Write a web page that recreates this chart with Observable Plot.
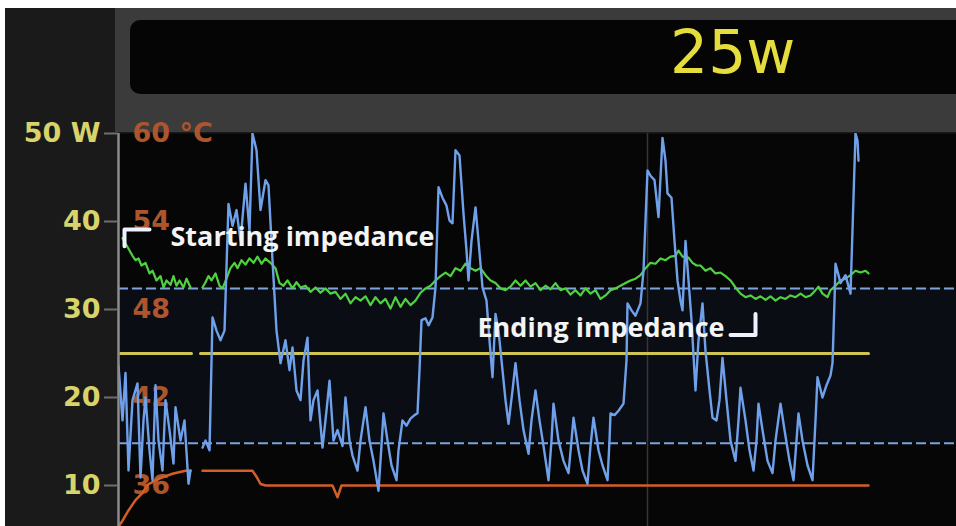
<!DOCTYPE html>
<html>
<head>
<meta charset="utf-8">
<script src="https://cdn.jsdelivr.net/npm/d3@7"></script>
<script src="https://cdn.jsdelivr.net/npm/@observablehq/plot@0.6"></script>
<style>
  html, body { margin: 0; padding: 0; background: #ffffff; }
  #screen { position: absolute; left: 5px; top: 8px; width: 951px; height: 518px; background: #1a1a1a; overflow: hidden; }
  #band { position: absolute; left: 110px; top: 0; width: 841px; height: 124px; background: #3b3b3b; }
  #box { position: absolute; left: 125px; top: 12px; width: 840px; height: 74px; background: #050505; border-radius: 10px; }
  #setp { position: absolute; left: 665px; top: 14px; font-family: "DejaVu Sans"; font-size: 60px; line-height: 60px; color: #e4dd3c; white-space: nowrap; }
  #chart { position: absolute; left: 0; top: 0; }
</style>
</head>
<body>
<div id="screen">
  <div id="band"></div>
  <div id="box"></div>
  <div id="setp">25w</div>
  <div id="chart"></div>
</div>
<script>
// ---- data (time in s, power in W, temperature in °C) ----
const xDomain = [0, 83.8];
const yDomain = [5.34, 50];
const powerTicks = [10, 20, 30, 40, 50];
const tempTicks = [60, 54, 48, 42, 36];
const setPower = 25;
const impedanceLimits = [32.4, 14.8];
const cursorTime = [52.9];

const setLine = [[0.2, 25], [7.3, 25], [7.8, NaN], [8.2, 25], [75, 25]];

const power = [
  [0,23.6],[0.4,17.4],[0.7,22.8],[1.0,11.7],[1.4,19.7],[1.9,21.6],[2.2,10.9],[2.5,17.4],[2.7,20.0],[3.1,14.0],
  [3.4,10.6],[3.7,21.4],[4.0,15.1],[4.4,11.7],[4.7,19.7],[5.1,16.3],[5.5,12.5],[5.7,18.9],[6.2,15.1],[6.6,17.4],
  [7.0,10.2],[7.2,11.7],[7.8,NaN],
  [8.4,14.3],[8.7,15.1],[9.1,14.0],[9.4,29.1],[9.8,27.6],[10.2,26.5],[10.6,27.6],[11.0,42.0],[11.4,39.5],[11.8,41.3],
  [12.2,37.8],[12.7,44.3],[13.1,39.0],[13.4,50.0],[13.8,48.1],[14.2,41.3],[14.7,44.7],[15.0,44.1],[15.4,35.6],[15.8,27.6],
  [16.2,23.9],[16.7,26.5],[17.1,23.1],[17.4,25.7],[17.8,20.8],[18.2,19.7],[18.5,24.2],[18.9,26.8],[19.2,17.4],[19.5,19.7],
  [19.9,20.8],[20.4,14.3],[20.8,18.5],[21.1,21.9],[21.5,15.1],[21.9,16.3],[22.4,14.5],[22.7,20.0],[23.1,15.1],[23.4,13.4],
  [23.9,11.7],[24.2,15.1],[24.7,18.9],[25.1,15.1],[25.5,12.8],[26.0,9.4],[26.2,12.8],[26.5,18.2],[26.9,15.1],[27.3,12.3],
  [27.8,10.6],[28.0,14.0],[28.4,17.4],[28.8,16.8],[29.2,17.6],[29.6,18.0],[29.9,18.2],[30.1,23.1],[30.3,28.8],[30.7,29.0],
  [31.0,28.2],[31.4,29.1],[31.7,32.5],[32.0,43.9],[32.4,42.7],[32.8,41.8],[33.1,40.1],[33.4,39.8],[33.7,48.1],[34.1,47.5],
  [34.5,40.9],[34.8,36.7],[35.0,33.3],[35.3,37.8],[35.7,41.6],[36.0,37.8],[36.4,32.5],[36.8,31.0],[37.1,26.5],[37.4,22.3],
  [37.7,29.5],[38.0,27.6],[38.4,23.1],[38.7,19.7],[39.0,17.0],[39.4,20.8],[39.7,23.9],[40.1,19.7],[40.5,16.3],[41.0,13.6],
  [41.3,17.4],[41.7,20.8],[42.1,17.4],[42.5,14.5],[43.0,10.6],[43.3,15.1],[43.5,19.3],[44.0,15.1],[44.5,12.8],[45.0,11.4],
  [45.3,15.1],[45.5,17.7],[46.0,14.0],[46.4,11.7],[46.9,10.2],[47.2,14.5],[47.5,17.7],[48.0,14.0],[48.4,12.3],[48.9,10.6],
  [49.1,15.1],[49.2,18.2],[49.6,18.0],[50.0,18.5],[50.5,19.3],[50.8,24.2],[50.9,30.7],[51.3,29.9],[51.7,29.3],[52.2,30.7],
  [52.5,34.4],[52.9,45.8],[53.2,45.2],[53.6,44.7],[54.0,40.5],[54.4,49.5],[54.7,46.9],[54.9,43.2],[55.3,42.7],[55.6,37.8],
  [55.9,33.3],[56.2,31.0],[56.4,29.9],[56.7,37.8],[57.0,33.3],[57.3,28.8],[57.7,20.8],[58.0,26.5],[58.4,30.7],[58.7,25.3],
  [59.1,20.8],[59.4,17.7],[59.8,17.4],[60.1,19.7],[60.4,24.5],[60.8,19.7],[61.2,15.1],[61.7,12.8],[62.0,17.4],[62.2,21.1],
  [62.7,17.4],[63.1,14.0],[63.5,11.7],[63.8,15.1],[64.0,19.3],[64.4,16.3],[64.9,12.8],[65.4,11.4],[65.7,15.1],[66.2,19.3],
  [66.6,16.3],[67.1,12.8],[67.5,10.6],[67.8,15.1],[68.0,18.2],[68.4,15.1],[68.9,12.3],[69.4,10.6],[69.7,17.4],[69.9,22.3],
  [70.4,20.0],[70.8,21.4],[71.2,22.5],[71.4,23.9],[71.6,31.0],[71.7,35.2],[72.0,33.9],[72.2,33.0],[72.7,33.9],[73.2,31.8],
  [73.4,39.0],[73.7,50.0],[73.9,49.2],[74.0,46.9]
];

// impedance trace, drawn on the power scale as the display shows it
const impedance = [
  [0.4,38.1],[0.7,37.5],[1.1,36.7],[1.4,36.1],[1.7,35.6],[2.0,35.8],[2.3,35.0],[2.7,35.3],[3.1,34.1],[3.4,34.4],
  [3.8,33.3],[4.2,33.8],[4.5,32.5],[4.8,33.3],[5.2,32.8],[5.5,33.8],[5.8,32.7],[6.1,33.3],[6.5,32.5],[6.8,33.5],
  [7.2,32.5],[7.8,NaN],
  [8.4,32.5],[8.7,33.1],[9.0,33.8],[9.3,33.3],[9.7,34.1],[10.1,32.7],[10.4,32.4],[10.8,33.5],[11.2,34.7],[11.6,35.3],
  [11.9,34.7],[12.3,35.6],[12.7,35.1],[13.1,35.8],[13.5,35.3],[13.9,36.0],[14.3,35.2],[14.7,35.8],[15.2,35.3],[15.7,34.7],
  [16.1,33.0],[16.5,32.7],[16.9,33.3],[17.4,32.4],[17.8,33.1],[18.2,32.5],[18.7,32.7],[19.2,32.0],[19.7,32.5],[20.2,31.9],
  [20.7,32.4],[21.2,31.8],[21.7,32.0],[22.2,31.2],[22.7,31.8],[23.2,30.7],[23.7,31.4],[24.2,31.0],[24.7,31.5],[25.2,30.5],
  [25.7,31.4],[26.2,30.7],[26.7,31.2],[27.2,30.1],[27.7,31.4],[28.2,30.3],[28.7,31.2],[29.2,30.5],[29.7,31.0],[30.2,31.9],
  [30.7,32.4],[31.2,32.7],[31.7,33.3],[32.2,33.8],[32.7,34.2],[33.2,33.8],[33.7,34.7],[34.2,34.4],[34.7,35.2],[35.2,34.7],
  [35.7,34.4],[36.2,34.7],[36.7,33.9],[37.2,33.3],[37.7,33.0],[38.2,32.4],[38.7,32.2],[39.2,32.6],[39.7,33.3],[40.2,32.7],
  [40.7,33.3],[41.2,32.6],[41.7,33.0],[42.2,32.2],[42.7,32.7],[43.2,32.3],[43.7,33.0],[44.2,32.2],[44.7,32.4],[45.2,31.7],
  [45.7,32.2],[46.2,31.6],[46.7,32.4],[47.2,31.8],[47.7,32.2],[48.2,31.2],[48.7,31.6],[49.2,32.2],[49.7,32.4],[50.2,32.7],
  [50.7,33.0],[51.2,33.3],[51.7,33.5],[52.2,33.9],[52.7,34.7],[53.2,35.3],[53.7,35.2],[54.2,35.8],[54.7,35.6],[55.2,36.0],
  [55.7,36.1],[56.0,36.7],[56.4,36.0],[57.0,35.9],[57.4,35.3],[57.8,35.0],[58.2,35.0],[58.7,34.4],[59.2,34.7],[59.7,34.1],
  [60.2,34.2],[60.7,33.8],[61.2,33.3],[61.7,32.5],[62.2,31.8],[62.7,31.4],[63.2,31.6],[63.7,31.2],[64.2,31.5],[64.7,31.1],
  [65.2,31.5],[65.7,31.0],[66.2,31.4],[66.7,31.2],[67.2,31.6],[67.7,31.4],[68.2,31.8],[68.7,31.4],[69.2,31.6],[69.7,32.2],
  [70.0,32.6],[70.4,31.8],[70.9,31.4],[71.2,32.2],[71.7,32.7],[72.2,33.3],[72.7,33.5],[73.2,33.9],[73.7,34.4],[74.2,34.2],
  [74.7,34.4],[75.0,34.1]
];

const temperature = [
  [0,33.2],[0.4,33.6],[1.0,34.3],[1.7,35.0],[2.4,35.5],[3.0,36.1],[4.2,36.5],[5.4,36.8],[6.7,37.0],[7.2,37.0],[7.8,NaN],
  [8.4,37.0],[13.4,37.0],[13.8,36.6],[14.2,36.1],[14.7,36.0],[21.4,36.0],[21.9,35.2],[22.3,36.0],[75.0,36.0]
];

const annotations = [
  {t: 5.2, w: 38.2, label: "Starting impedance"},
  {t: 35.9, w: 27.85, label: "Ending impedance"}
];
const startBracket = [[0.6, 37.2], [0.6, 39.1], [3.1, 39.1]];
const endBracket = [[61.2, 27.1], [63.7, 27.1], [63.7, 29.5]];

// temperature axis shares the plot: 36 °C at 10 W, 6 °C per 10 W
const tempToW = T => 10 + (T - 36) / 0.6;

const chart = Plot.plot({
  width: 951,
  height: 518,
  marginTop: 125,
  marginBottom: 0,
  marginLeft: 113,
  marginRight: 0,
  style: {background: "transparent", fontFamily: "DejaVu Sans", overflow: "visible"},
  x: {domain: xDomain, axis: null},
  y: {domain: yDomain, axis: null},
  marks: [
    Plot.frame({fill: "#060606", stroke: null}),
    Plot.rect([impedanceLimits], {x1: xDomain[0], x2: xDomain[1], y1: d => d[1], y2: d => d[0], fill: "#0b0d15"}),
    Plot.ruleX(cursorTime, {stroke: "#363636", strokeWidth: 1.5}),
    Plot.text(tempTicks, {
      y: d => tempToW(d), text: d => d === 60 ? "60 °C" : String(d),
      frameAnchor: "left", textAnchor: "start", dx: 14,
      fontSize: 27, fontWeight: "bold", fill: "#ad552d"
    }),
    Plot.ruleY(impedanceLimits, {stroke: "#7ea3dc", strokeWidth: 2, strokeDasharray: "10,4"}),
    Plot.line(setLine, {x: d => d[0], y: d => d[1], stroke: "#cfc453", strokeWidth: 3}),
    Plot.line(temperature, {x: d => d[0], y: d => tempToW(d[1]), stroke: "#d45e28", strokeWidth: 2.5}),
    Plot.line(impedance, {x: d => d[0], y: d => d[1], stroke: "#4fd23f", strokeWidth: 2.2, strokeLinejoin: "round"}),
    Plot.line(power, {x: d => d[0], y: d => d[1], stroke: "#6fa1ea", strokeWidth: 2.4, strokeLinejoin: "round", clip: true}),
    Plot.ruleX([xDomain[0]], {stroke: "#8c8c8c", strokeWidth: 2.5}),
    Plot.axisY(powerTicks, {
      anchor: "left", tickSize: 14, tickPadding: 4, label: null,
      tickFormat: d => d === 50 ? "50 W" : String(d),
      fontSize: 27, fontWeight: "bold", fill: "#d8d36a", stroke: "#6e6e6e", strokeWidth: 2
    }),
    Plot.line(startBracket, {x: d => d[0], y: d => d[1], stroke: "#eef2ff", strokeWidth: 4}),
    Plot.line(endBracket, {x: d => d[0], y: d => d[1], stroke: "#eef2ff", strokeWidth: 4}),
    Plot.text(annotations, {
      x: "t", y: "w", text: "label", textAnchor: "start",
      fontFamily: "Open Sans", fontWeight: "bold", fontSize: 27, fill: "#f4f4f4"
    })
  ]
});
document.getElementById("chart").appendChild(chart);
</script>
</body>
</html>
